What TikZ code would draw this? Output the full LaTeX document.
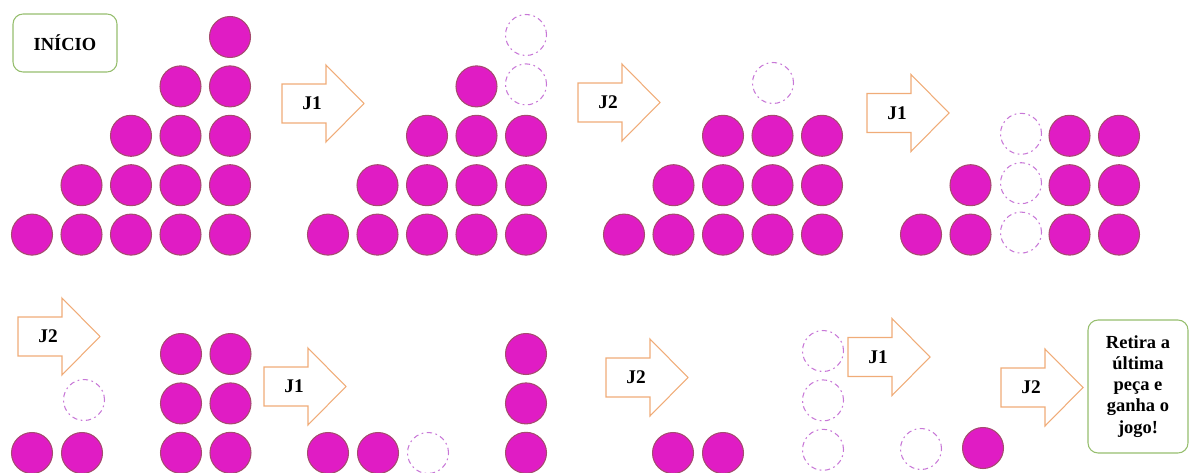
\documentclass[tikz,border=0pt]{standalone}
\usepackage{fontspec}
\setmainfont{Liberation Serif}
\definecolor{corpeca}{RGB}{224,28,196}
\definecolor{bordapeca}{RGB}{165,75,110}
\definecolor{corvazia}{RGB}{200,120,215}
\definecolor{corseta}{RGB}{240,172,120}
\definecolor{corcaixa}{RGB}{150,190,110}
\tikzset{
  peca/.style={circle, fill=corpeca, draw=bordapeca, line width=0.6pt, minimum size=0.82cm, inner sep=0pt},
  vazia/.style={circle, draw=corvazia, line width=0.6pt, dash pattern=on 3pt off 2pt on 1pt off 2pt, minimum size=0.82cm, inner sep=0pt},
  seta/.style={draw=corseta, line width=0.6pt, fill=white},
  rotulo/.style={font=\bfseries\fontsize{11}{12}\selectfont},
  caixa/.style={draw=corcaixa, line width=0.6pt, rounded corners=0.2cm, fill=white, align=center, font=\bfseries\fontsize{10.5}{12}\selectfont}
}
\begin{document}
\begin{tikzpicture}[x=0.02cm, y=-0.02cm]
    \useasboundingbox (0,0) rectangle (1190,473);
    % inicio
    \node[caixa, minimum width=2.08cm, minimum height=1.16cm] (inicio) at (65,43) {INÍCIO};
    % quadro 1
    \foreach \c/\r in {1/5,2/5,3/5,4/5,5/5,2/4,3/4,4/4,5/4,3/3,4/3,5/3,4/2,5/2,5/1}
        \node[peca] (a\c\r) at ({32+49.5*(\c-1)}, {37+49.4*(\r-1)}) {};
    % quadro 2
    \foreach \c/\r in {1/5,2/5,3/5,4/5,5/5,2/4,3/4,4/4,5/4,3/3,4/3,5/3,4/2}
        \node[peca] (b\c\r) at ({328+49.5*(\c-1)}, {37+49.4*(\r-1)}) {};
    \foreach \c/\r in {5/2,5/1}
        \node[vazia] (b\c\r) at ({328+49.5*(\c-1)}, {35+49.4*(\r-1)}) {};
    % quadro 3
    \foreach \c/\r in {1/5,2/5,3/5,4/5,5/5,2/4,3/4,4/4,5/4,3/3,4/3,5/3}
        \node[peca] (c\c\r) at ({624+49.5*(\c-1)}, {37+49.4*(\r-1)}) {};
    \node[vazia] (c42) at (773,83) {};
    % quadro 4
    \foreach \c/\r in {1/5,2/5,4/5,5/5,2/4,4/4,5/4,4/3,5/3}
        \node[peca] (d\c\r) at ({921+49.5*(\c-1)}, {37+49.4*(\r-1)}) {};
    \foreach \r in {3,4,5}
        \node[vazia] (d3\r) at (1021, {35+49.4*(\r-1)}) {};
    % linha de baixo
    \node[peca] (e1) at (32,453) {};
    \node[peca] (e2) at (82,453) {};
    \node[vazia] (e3) at (84,400) {};
    \foreach \c in {1,2}
        \foreach \r in {1,2,3}
            \node[peca] (f\c\r) at ({181+49.5*(\c-1)}, {354+49.4*(\r-1)}) {};
    \node[peca] (g1) at (328,453) {};
    \node[peca] (g2) at (378,453) {};
    \node[vazia] (g3) at (428,453) {};
    \foreach \r in {1,2,3}
        \node[peca] (h\r) at (526, {354+49.4*(\r-1)}) {};
    \node[peca] (i1) at (673,453) {};
    \node[peca] (i2) at (723,453) {};
    \foreach \r in {1,2,3}
        \node[vazia] (j\r) at (823, {351+49.4*(\r-1)}) {};
    \node[vazia] (k1) at (921,449) {};
    \node[peca] (k2) at (983,448) {};
    % setas das jogadas
    \foreach \x/\y/\t/\n in {282/103.5/J1/s1, 578/102.5/J2/s2, 867/113/J1/s3, 18/336.5/J2/s4, 264/386.5/J1/s5, 606/377.5/J2/s6, 848/357/J1/s7, 1001/387.5/J2/s8} {
        \draw[seta] (\x,\y-19.5) -- (\x+44,\y-19.5) -- (\x+44,\y-38.5) -- (\x+82,\y) -- (\x+44,\y+38.5) -- (\x+44,\y+19.5) -- (\x,\y+19.5) -- cycle;
        \node[rotulo] (\n) at (\x+30,\y) {\t};
    }
    % fim
    \node[caixa, minimum width=2cm, minimum height=2.66cm] (fim) at (1138,386.5) {Retira a\\última\\peça e\\ganha o\\jogo!};
\end{tikzpicture}
\end{document}
